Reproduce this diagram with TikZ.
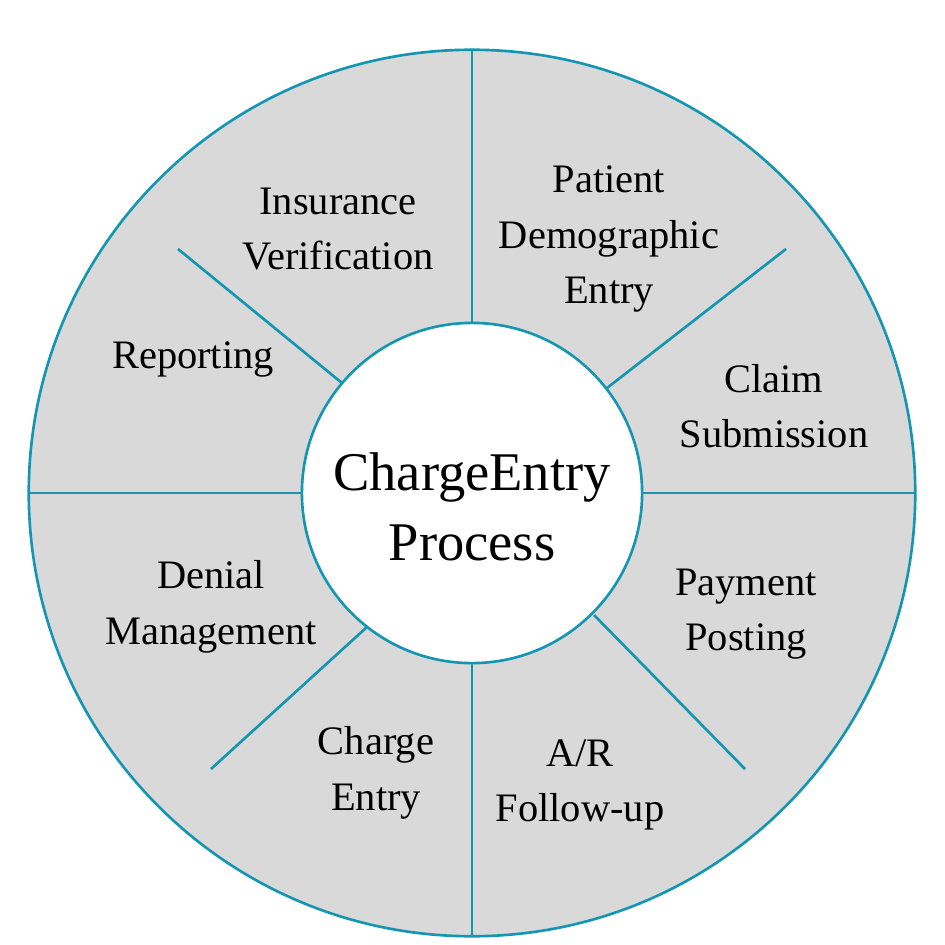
\documentclass[tikz,border=0pt]{standalone}
\usepackage{fontspec}
\setmainfont{Liberation Serif}
\definecolor{rimcol}{RGB}{20,150,178}
\definecolor{segfill}{RGB}{217,217,217}
\begin{document}
\begin{tikzpicture}[x=0.01cm,y=-0.01cm,
  ring/.style={circle,draw=rimcol,line width=0.75pt,inner sep=0pt,outer sep=0pt},
  spoke/.style={draw=rimcol,line width=0.75pt},
  lbl/.style={align=center,font=\fontsize{11.5}{15.8}\selectfont,text=black}]
\useasboundingbox (0,0) rectangle (945,945);
\node[ring,fill=segfill,minimum size=8.86cm] (rim) at (472,493) {};
\node[ring,fill=white,minimum size=3.4cm,align=center,font=\fontsize{15.5}{20}\selectfont] (hub) at (472,493) {};
\node[align=center,font=\fontsize{15.5}{19.8}\selectfont] (title) at (472,507) {ChargeEntry\\Process};
% spokes to rim
\draw[spoke] (hub.90) -- (rim.90);
\draw[spoke] (hub.270) -- (rim.270);
\draw[spoke] (hub.0) -- (rim.0);
\draw[spoke] (hub.180) -- (rim.180);
% short diagonal spokes
\coordinate (ul) at (178,249);
\coordinate (ur) at (786,249);
\coordinate (lr) at (745,769);
\coordinate (ll) at (211,769);
\coordinate (uli) at (342,383);
\coordinate (uri) at (607,388);
\coordinate (lri) at (594,615);
\coordinate (lli) at (367,627);
\draw[spoke] (uli) -- (ul);
\draw[spoke] (uri) -- (ur);
\draw[spoke] (lri) -- (lr);
\draw[spoke] (lli) -- (ll);
% labels
\node[lbl] (ins) at (338,229) {Insurance\\Verification};
\node[lbl] (pat) at (609,239) {Patient\\Demographic\\Entry};
\node[lbl] (clm) at (774,406) {Claim\\Submission};
\node[lbl] (pay) at (746,614) {Payment\\Posting};
\node[lbl] (ar) at (580,785) {A/R\\Follow-up};
\node[lbl] (che) at (376,773) {Charge\\Entry};
\node[lbl] (den) at (211,607) {Denial\\Management};
\node[lbl] (rep) at (193,359) {Reporting};
\end{tikzpicture}
\end{document}
